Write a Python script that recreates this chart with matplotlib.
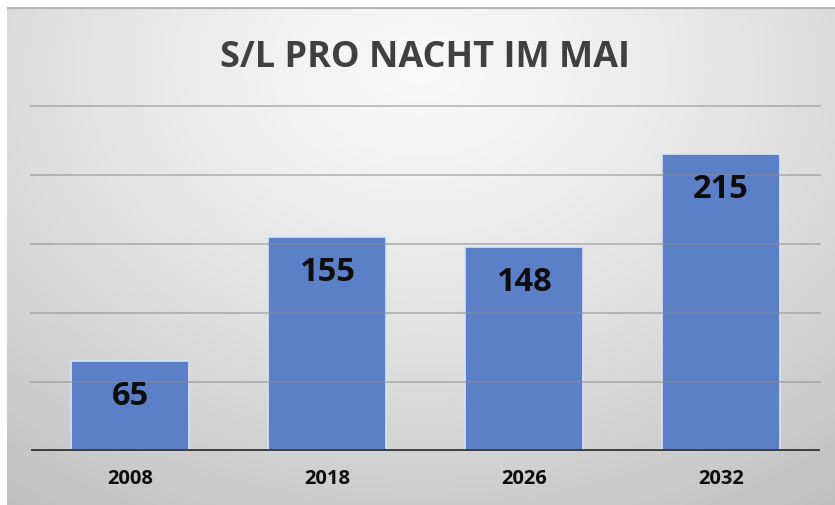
import numpy as np
import matplotlib.pyplot as plt

years = ["2008", "2018", "2026", "2032"]
values = [65, 155, 148, 215]
title = "S/L PRO NACHT IM MAI"

W, H = 835, 506
fig = plt.figure(figsize=(W / 100, H / 100), dpi=100)
fig.patch.set_facecolor("white")

# gradient background panel
bg = fig.add_axes([7 / W, 0, 1 - 7 / W, 1 - 8 / H], zorder=-5)
yy, xx = np.mgrid[0:1:300j, 0:1:500j]
r = np.sqrt(((xx - 0.5) / 0.75) ** 2 + ((yy - 0.12) / 0.95) ** 2)
shade = 0.975 - 0.19 * np.clip(r, 0, 1.2) ** 1.3
bg.imshow(np.dstack([shade] * 3), extent=[0, 1, 0, 1], aspect="auto", origin="upper")
bg.axhline(1, color="#b4b4b4", lw=3)
bg.set_xlim(0, 1)
bg.set_ylim(0, 1)
bg.axis("off")

ax = fig.add_axes([31.5 / W, 1 - 452 / H, 788 / W, 345 / H])
ax.set_facecolor("none")
x = np.arange(len(years))
ax.bar(x, values, width=0.6, color="#5b80c8", edgecolor="#dbe4f3", linewidth=1.2, zorder=2)
ax.set_xlim(-0.5, 3.5)
ax.set_ylim(0, 250)
for g in [50, 100, 150, 200, 250]:
    ax.axhline(g, color="#8c8c8c", lw=1.3, alpha=0.55, zorder=3, clip_on=False)
ax.axhline(0, color="#3f3f3f", lw=2.8, zorder=4)

for xi, v in zip(x, values):
    ax.text(xi, v - 25, str(v), ha="center", va="center", fontsize=23.5,
            fontweight="bold", family="Open Sans", color="#0d0d0d", zorder=5)

ax.set_xticks(x)
ax.set_xticklabels(years, fontsize=14.5, fontweight="bold", family="Open Sans", color="#0d0d0d")
ax.tick_params(axis="x", length=0, pad=12)
ax.set_yticks([])
for s in ax.spines.values():
    s.set_visible(False)

fig.text(425 / W, 1 - 58 / H, title, ha="center", va="center", fontsize=26,
         fontweight="bold", family="Open Sans", color="#404040")

fig.savefig("out.png", dpi=100)
